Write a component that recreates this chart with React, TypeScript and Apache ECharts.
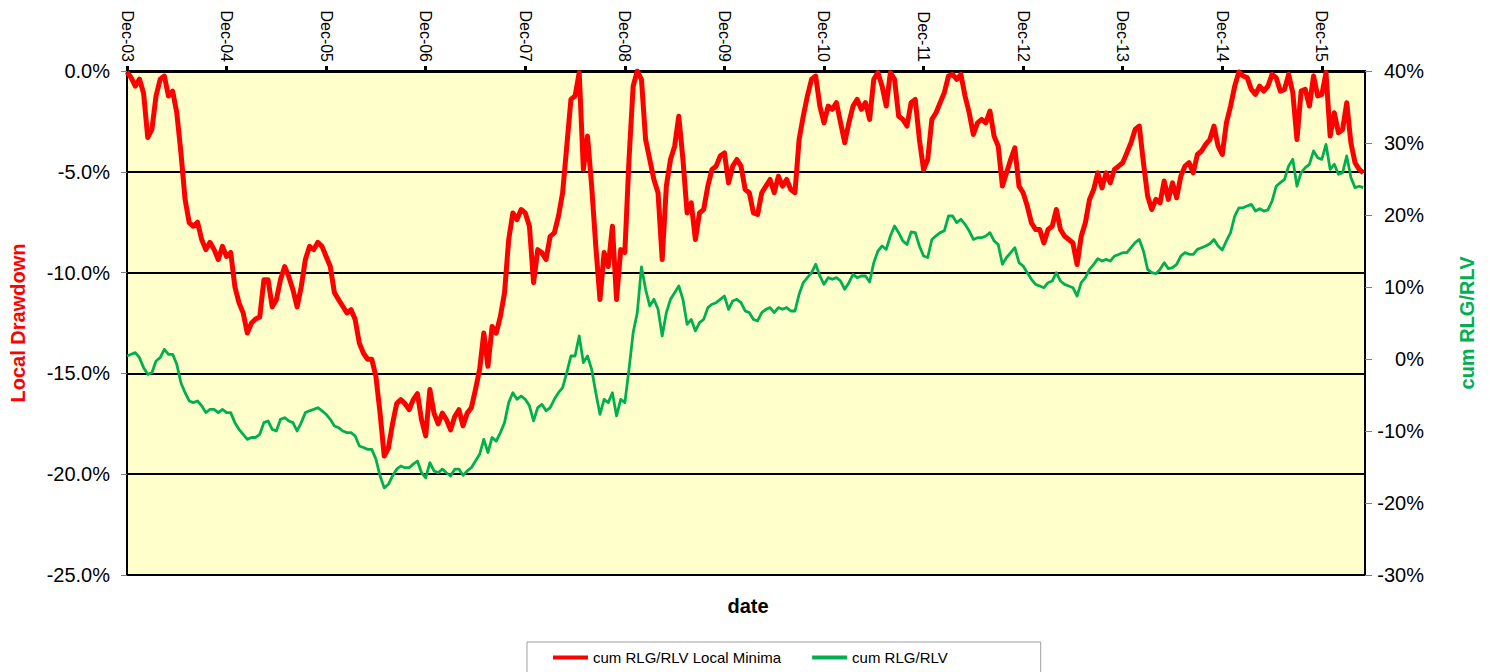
import React, { useEffect, useRef } from "react";
import * as echarts from "echarts";

// x positions: months since Dec-03, half-month steps
const tickLabels = ["Dec-03", "Dec-04", "Dec-05", "Dec-06", "Dec-07", "Dec-08", "Dec-09", "Dec-10", "Dec-11", "Dec-12", "Dec-13", "Dec-14", "Dec-15"];

// Local drawdown (%), left axis
const localMinima = [
  -0.05, -0.33, -0.75, -0.4, -1.1, -3.3, -2.9, -1.24, -0.41, -0.25,
  -1.24, -1.0, -2.07, -4.06, -6.37, -7.53, -7.7, -7.5, -8.36, -8.86,
  -8.5, -8.86, -9.35, -8.7, -9.2, -9.0, -10.7, -11.5, -12.0, -13.0,
  -12.5, -12.3, -12.2, -10.35, -10.35, -11.7, -11.35, -10.35, -9.7, -10.2,
  -10.85, -11.7, -10.7, -9.35, -8.7, -8.86, -8.5, -8.7, -9.2, -9.7,
  -11.0,
  -11.34, -11.67, -12.0, -11.84, -12.33, -13.5, -14.0, -14.3, -14.3,
  -15.15, -16.97, -19.1, -18.7, -17.5, -16.5, -16.3, -16.5, -16.8, -16.3,
  -16.0, -17.3, -18.1, -15.8, -16.97, -17.5, -16.97, -17.3, -17.8, -17.14,
  -16.8, -17.6, -16.97, -16.7, -15.8, -14.8, -13.0, -14.65, -12.67, -13.0,
  -12.17, -11.0, -8.36, -7.04, -7.37, -6.87, -7.04, -7.7, -10.5, -8.86,
  -9.02, -9.35, -8.2, -8.03, -7.2, -6.04, -3.73, -1.41, -1.24, -0.08,
  -4.88, -3.23, -5.71, -8.7, -11.34, -9.0, -9.7, -7.7, -11.34, -8.86,
  -9.0, -4.39, -0.75, 0, -0.41, -3.4, -4.39, -5.38, -6.04, -9.35,
  -5.71, -4.39, -3.73, -2.24, -4.39, -7.04, -6.54, -8.36, -7.04, -6.87,
  -5.71, -4.88, -4.72, -4.22, -4.06, -5.55, -4.72, -4.39, -4.72, -5.88,
  -6.04, -7.04, -7.12, -6.04, -5.71, -5.38, -6.04, -5.22, -5.71, -5.38,
  -5.88, -6.04, -3.4, -2.24, -1.24, -0.41, -0.25, -1.74, -2.57, -1.74,
  -1.9, -1.57, -2.57, -3.56, -2.57, -1.74, -1.41, -1.9, -1.57, -2.4,
  -0.41, -0.08, -0.75, -1.74, -0.08, -0.41, -2.24, -2.4, -2.73, -1.57,
  -1.41, -3.4, -4.9, -4.39, -2.4, -2.07, -1.57, -1.08, -0.25,
  -0.17, -0.41, -0.17, -1.24, -2.07, -3.15, -2.57, -2.4, -2.57, -1.99,
  -3.23, -3.73, -5.71, -5.05, -4.39, -3.81, -5.71, -6.04, -6.7, -7.53,
  -7.86, -7.86, -8.53, -7.86, -7.7, -6.87, -7.86, -8.2, -8.36, -8.53,
  -9.6, -8.2, -7.53, -6.37, -5.88, -5.05, -5.8, -5.05, -5.55, -4.88,
  -4.72, -4.55, -4.06, -3.56, -2.9, -2.73, -4.55, -6.2, -6.87,
  -6.37, -6.54, -5.46, -6.37, -5.55, -6.29, -5.22, -4.72, -4.55, -5.05,
  -4.14, -3.97, -3.64, -3.4, -2.73, -3.73, -4.14, -2.57, -1.74, -0.75,
  -0.05, -0.25, -0.33, -0.91, -1.16, -0.75, -1.0, -0.75, -0.17, -0.33,
  -1.0, -0.91, -0.17, -1.08, -3.4, -1.0, -0.91, -1.74, -0.25, -1.24,
  -1.16, -0.08, -3.23, -2.07, -3.06, -2.9, -1.57, -3.56, -4.55, -4.88,
  -5.05,
];

// cumulative RLG/RLV (%), right axis
const cumRlgRlv = [
  0.42, 0.65, 0.88, 0.19, -1.2, -2.13, -1.9, -0.28, 0.19, 1.34,
  0.65, 0.65, -0.74, -3.3, -4.68, -5.83, -6.06, -5.83, -6.5, -7.45,
  -7.0, -7.0, -7.45, -7.0, -7.45, -7.45, -8.84, -9.77, -10.46, -11.16,
  -10.9, -10.9, -10.46, -8.84, -8.6, -9.77, -10.0, -8.38, -8.15, -8.6,
  -8.84, -10.0, -8.84, -7.45, -7.2, -7.0, -6.76, -7.2, -7.68, -8.38,
  -9.3,
  -9.54, -10.0, -10.23, -10.23, -10.7, -12.08, -12.3, -12.55, -12.55,
  -13.9, -16.25, -17.9, -17.4, -16.25, -15.3, -14.86, -15.1, -15.1, -14.6,
  -14.17, -15.8, -16.5, -14.4, -15.55, -15.8, -15.3, -15.8, -16.25, -15.3,
  -15.3, -16.15, -15.55, -15.1, -14.17, -13.24, -11.16, -13.0, -10.9, -11.4,
  -10.23, -8.84, -6.06, -4.68, -5.6, -5.14, -5.6, -6.5, -8.6, -6.76,
  -6.3, -7.2, -6.76, -5.6, -4.68, -3.98, -1.9, 0.42, 0.42, 3.2,
  -0.5, 0.42, -1.44, -4.68, -7.68, -5.6, -6.06, -4.68, -7.9, -5.6,
  -6.06, -1.44, 3.66, 6.44, 12.8, 9.68, 7.36, 8.29, 6.9, 3.2,
  6.44, 8.29, 9.2, 10.14, 8.29, 4.81, 5.5, 3.9, 5.05, 5.5,
  7.13, 7.6, 7.82, 8.29, 8.75, 6.9, 8.06, 8.29, 7.82, 6.67,
  6.44, 5.5, 5.28, 6.44, 6.9, 7.13, 6.44, 7.13, 6.9, 7.13,
  6.67, 6.67, 8.98, 10.6, 11.3, 12.0, 13.15, 11.53, 10.37, 11.3,
  11.07, 11.3, 10.83, 9.68, 10.6, 11.76, 11.3, 11.53, 11.53, 10.7,
  13.38, 15.0, 15.7, 15.23, 17.08, 18.47, 17.55, 16.4, 15.9, 17.64,
  17.55, 15.7, 14.3, 14.1, 16.6, 17.1, 17.55, 17.8, 19.86,
  19.86, 18.94, 19.4, 18.7, 17.78, 16.6, 16.85, 16.85, 17.08, 17.55,
  16.4, 15.9, 13.15, 14.1, 14.77, 15.46, 13.38, 12.9, 11.99, 11.07,
  10.37, 10.14, 9.9, 10.6, 10.83, 11.99, 10.83, 10.37, 10.14, 9.9,
  8.75, 10.6, 11.3, 12.45, 13.15, 13.94, 13.6, 13.84, 13.6, 14.3,
  14.5, 14.77, 14.77, 15.46, 16.16, 16.6, 15.0, 12.45, 11.99,
  11.85, 12.45, 13.38, 12.55, 12.7, 13.15, 14.3, 14.77, 14.54, 14.54,
  15.23, 15.46, 15.7, 16.0, 16.6, 15.7, 15.14, 16.4, 17.55, 19.86,
  21.0, 21.0, 21.25, 21.48, 20.55, 20.88, 20.55, 20.7, 21.94, 24.0,
  24.5, 24.95, 26.8, 27.73, 24.0, 25.88, 26.57, 27.04, 28.9, 27.96,
  27.73, 29.8, 26.34, 27.04, 25.65, 25.88, 28.2, 25.2, 23.8, 24.0,
  23.8,
];

const months = localMinima.map((_, i) => i * 0.5);
const tickValues = tickLabels.map((_, i) => i * 12);

const FONT = '"Liberation Sans", Arial, sans-serif';

export default function App() {
  const ref = useRef<HTMLDivElement>(null);
  useEffect(() => {
    if (!ref.current) return;
    const chart = echarts.init(ref.current, undefined, { renderer: "svg" });
    chart.setOption({
      animation: false,
      textStyle: { fontFamily: FONT },
      grid: {
        left: 126,
        top: 71,
        width: 1239,
        height: 504,
        show: true,
        backgroundColor: "#FFFFCC",
        borderColor: "#000",
        borderWidth: 2,
      },
      xAxis: {
        type: "value",
        position: "top",
        min: 0,
        max: 149.2,
        interval: 12,
        axisLine: { show: true, lineStyle: { color: "#000", width: 3 } },
        axisTick: {
          show: true,
          length: 5,
          customValues: tickValues,
          lineStyle: { color: "#000", width: 3 },
        },
        axisLabel: {
          rotate: -90,
          margin: 9,
          fontSize: 16,
          color: "#000",
          fontFamily: FONT,
          customValues: tickValues,
          formatter: (v: number) => tickLabels[Math.round(v / 12)] ?? "",
        },
        splitLine: { show: false },
      },
      yAxis: [
        {
          type: "value",
          position: "left",
          min: -25,
          max: 0,
          interval: 5,
          name: "Local Drawdown",
          nameLocation: "middle",
          nameRotate: 90,
          nameGap: 99,
          nameTextStyle: { color: "#FF0000", fontWeight: "bold", fontSize: 20, fontFamily: FONT },
          axisLine: { show: false },
          axisTick: { show: true, length: 6, lineStyle: { color: "#808080", width: 1 } },
          axisLabel: {
            margin: 17,
            fontSize: 20,
            color: "#000",
            fontFamily: FONT,
            formatter: (v: number) => v.toFixed(1) + "%",
          },
          splitLine: { show: true, lineStyle: { color: "#000", width: 2 } },
        },
        {
          type: "value",
          position: "right",
          min: -30,
          max: 40,
          interval: 10,
          name: "cum RLG/RLV",
          nameLocation: "middle",
          nameRotate: 90,
          nameGap: 92,
          nameTextStyle: { color: "#00B050", fontWeight: "bold", fontSize: 20, fontFamily: FONT },
          axisLine: { show: false },
          axisTick: { show: true, length: 7, lineStyle: { color: "#808080", width: 1 } },
          axisLabel: {
            margin: 59,
            align: "right",
            fontSize: 20,
            color: "#000",
            fontFamily: FONT,
            formatter: (v: number) => v + "%",
          },
          splitLine: { show: false },
        },
      ],
      legend: {
        left: 527,
        top: 642,
        orient: "horizontal",
        icon: "rect",
        itemWidth: 35,
        itemHeight: 4,
        itemGap: 31,
        padding: [8, 93, 20, 26],
        borderColor: "#A0A0A0",
        borderWidth: 1,
        backgroundColor: "#fff",
        textStyle: { fontSize: 15, color: "#000", fontFamily: FONT },
        data: ["cum RLG/RLV Local Minima", "cum RLG/RLV"],
      },
      graphic: [
        {
          type: "text",
          x: 748,
          y: 606,
          style: {
            text: "date",
            fontSize: 20,
            fontWeight: "bold",
            fontFamily: FONT,
            fill: "#000",
            textAlign: "center",
            textVerticalAlign: "middle",
          },
        },
      ],
      series: [
        {
          type: "line",
          name: "cum RLG/RLV Local Minima",
          yAxisIndex: 0,
          data: months.map((m, i) => [m, localMinima[i]]),
          showSymbol: false,
          lineStyle: { color: "#FF0000", width: 5, join: "round" },
          itemStyle: { color: "#FF0000" },
        },
        {
          type: "line",
          name: "cum RLG/RLV",
          yAxisIndex: 1,
          data: months.map((m, i) => [m, cumRlgRlv[i]]),
          showSymbol: false,
          lineStyle: { color: "#00B050", width: 2.8, join: "round" },
          itemStyle: { color: "#00B050" },
        },
      ],
    });
    return () => chart.dispose();
  }, []);
  return <div ref={ref} style={{ position: "absolute", left: 0, top: 0, width: 1490, height: 672 }} />;
}
